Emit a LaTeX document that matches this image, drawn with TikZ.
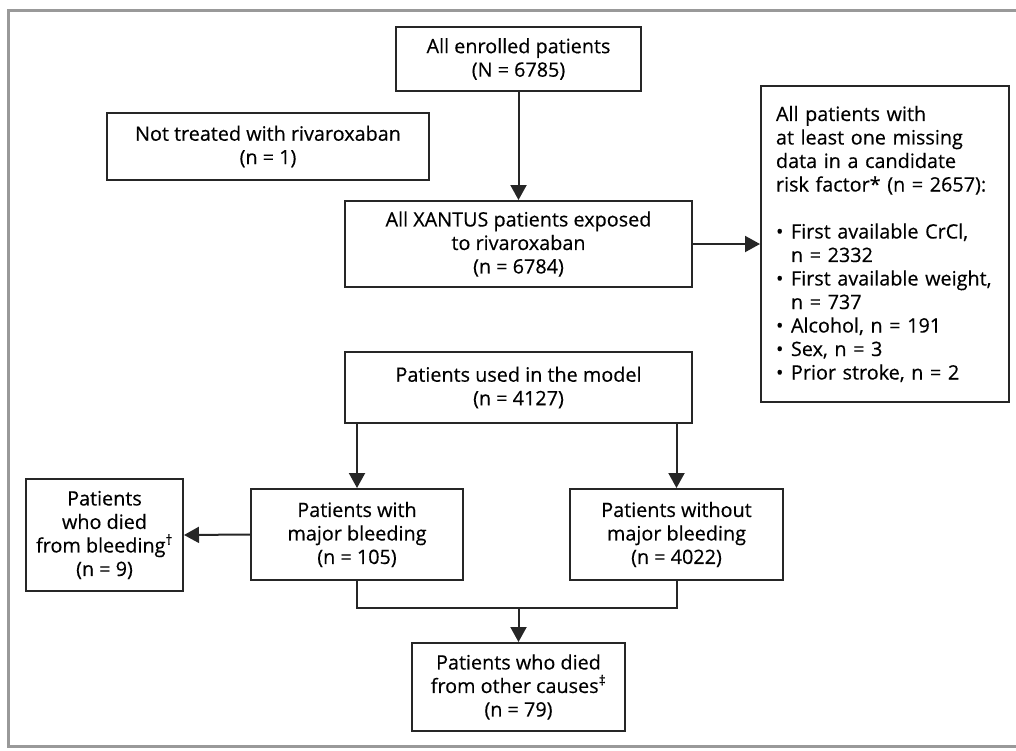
\documentclass[tikz,border=0pt]{standalone}
\usepackage{fontspec}
\setmainfont{Open Sans}[FakeBold=0.4]
\usetikzlibrary{arrows.meta}
\newcommand\bitem[1]{\makebox[15pt][l]{•}#1}
\newcommand\bcont[1]{\hspace*{15pt}#1}
\begin{document}
\begin{tikzpicture}[x=1pt,y=-1pt,
 box/.style={draw=black!85,line width=2pt,align=center,inner sep=0pt,font=\fontsize{19.8}{23.5}\selectfont},
 arr/.style={line width=2pt,draw=black!85,-{Triangle[width=16pt,length=15pt]}},
 ln/.style={line width=2pt,draw=black!85}]
\useasboundingbox (0,0) rectangle (1016,750);
\draw[line width=3pt,black!40] (1022,10.5) -- (8.5,10.5) -- (8.5,746.5) -- (1022,746.5);
\node[box,minimum width=245pt,minimum height=64pt] (enr) at (518.5,59) {All enrolled patients\\(N = 6785)};
\node[box,minimum width=322pt,minimum height=67pt] (nt) at (268,146.5) {Not treated with rivaroxaban\\(n = 1)};
\node[box,minimum width=347pt,minimum height=86pt] (xan) at (518.5,244) {All XANTUS patients exposed\\to rivaroxaban\\(n = 6784)};
\node[box,minimum width=248pt,minimum height=316pt,text width=218pt,align=left] (miss) at (885,244) {All patients with\\at least one missing\\data in a candidate\\risk factor* (n = 2657):\\[23.5pt]\bitem{First available CrCl,}\\\bcont{n = 2332}\\\bitem{First available weight,}\\\bcont{n = 737}\\\bitem{Alcohol, n = 191}\\\bitem{Sex, n = 3}\\\bitem{Prior stroke, n = 2}};
\node[box,minimum width=347pt,minimum height=71pt] (mod) at (518.5,387.5) {Patients used in the model\\(n = 4127)};
\node[box,minimum width=212pt,minimum height=91pt] (maj) at (357,534.5) {Patients with\\major bleeding\\(n = 105)};
\node[box,minimum width=213pt,minimum height=91pt] (wo) at (676.5,534.5) {Patients without\\major bleeding\\(n = 4022)};
\node[box,minimum width=157pt,minimum height=112pt] (died) at (104.5,535) {Patients\\who died\\from bleeding\textsuperscript{†}\\(n = 9)};
\node[box,minimum width=213pt,minimum height=88pt] (oth) at (518.5,687) {Patients who died\\from other causes\textsuperscript{‡}\\(n = 79)};
\coordinate (mj) at (518.5,608);
\draw[arr] (enr) -- (xan);
\draw[arr] (xan) -- (miss);
\draw[arr] (maj.north |- mod.south) -- (maj.north);
\draw[arr] (wo.north |- mod.south) -- (wo.north);
\draw[arr] (maj.west) -- (died.east);
\draw[ln] (maj.south) |- (mj) -| (wo.south);
\draw[arr] (mj) -- (oth.north);
\end{tikzpicture}
\end{document}
